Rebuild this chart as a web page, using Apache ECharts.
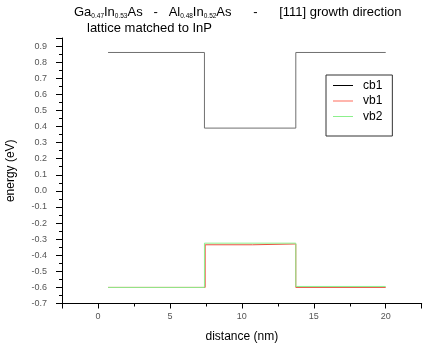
<!DOCTYPE html>
<html>
<head>
<meta charset="utf-8">
<script src="https://cdn.jsdelivr.net/npm/echarts@6/dist/echarts.min.js"></script>
<style>html,body{margin:0;padding:0;background:#fff}#c{width:432px;height:349px}</style>
</head>
<body>
<div id="c"></div>
<script>
// ---- data ----
var seriesNames = ['cb1', 'vb1', 'vb2'];
var cb1X = [0.7, 7.4, 7.4, 13.75, 13.75, 20];
var cb1Y = [0.86, 0.86, 0.39, 0.39, 0.86, 0.86];
var vb1X = [0.7, 7.45, 7.45, 10.75, 10.75, 13.75, 13.75, 20];
var vb1Y = [-0.60, -0.60, -0.335, -0.335, -0.33, -0.33, -0.60, -0.60];
var vb2X = [0.7, 7.4, 7.4, 13.75, 13.75, 20];
var vb2Y = [-0.60, -0.60, -0.325, -0.325, -0.594, -0.594];
var xTickLabels = [0, 5, 10, 15, 20];
var xMajorTicks = [-2.5, 0, 5, 10, 15, 20, 22.5];
var xMinorTicks = [2.5, 7.5, 12.5, 17.5];
var yTickLabels = [-0.7, -0.6, -0.5, -0.4, -0.3, -0.2, -0.1, 0.0, 0.1, 0.2, 0.3, 0.4, 0.5, 0.6, 0.7, 0.8, 0.9];
var yMajorTicks = yTickLabels.concat([0.95]);
var yMinorTicks = [-0.65, -0.55, -0.45, -0.35, -0.25, -0.15, -0.05, 0.05, 0.15, 0.25, 0.35, 0.45, 0.55, 0.65, 0.75, 0.85];

function pairs(xs, ys) { return xs.map(function (x, i) { return [x, ys[i]]; }); }

var FONT = 'Liberation Sans, Arial, sans-serif';
var axisLineStyle = { color: '#000', width: 1 };

var chart = echarts.init(document.getElementById('c'), null, { renderer: 'canvas' });
chart.setOption({
  animation: false,
  backgroundColor: '#fff',
  title: [
    {
      left: 69, top: 0, padding: 5,
      text: 'Ga{s|0.47}In{s|0.53}As   -   Al{s|0.48}In{s|0.52}As      -      [111] growth direction',
      textStyle: {
        fontFamily: FONT, fontSize: 13, fontWeight: 'normal', color: '#000', lineHeight: 15,
        rich: { s: { fontFamily: FONT, fontSize: 6.5, color: '#000', verticalAlign: 'bottom', lineHeight: 8 } }
      }
    },
    {
      left: 82, top: 16, padding: 5,
      text: 'lattice matched to InP',
      textStyle: { fontFamily: FONT, fontSize: 13, fontWeight: 'normal', color: '#000', lineHeight: 15 }
    }
  ],
  legend: {
    orient: 'vertical',
    left: 326, top: 75,
    padding: [4, 10, 13, 7],
    borderColor: '#333', borderWidth: 1,
    itemWidth: 20, itemHeight: 1, itemGap: 2.5,
    icon: 'rect',
    textStyle: { fontFamily: FONT, fontSize: 12, color: '#000', lineHeight: 13, padding: [0, 0, 0, 5] },
    data: [
      { name: 'cb1', itemStyle: { color: '#000' } },
      { name: 'vb1', itemStyle: { color: '#ff6a5a' } },
      { name: 'vb2', itemStyle: { color: '#8cf08c' } }
    ]
  },
  grid: { left: 62, right: 10.3, top: 38, bottom: 45.5, containLabel: false, outerBoundsMode: 'none' },
  xAxis: [
    {
      type: 'value', min: -2.5, max: 22.5,
      name: 'distance (nm)', nameLocation: 'middle', nameGap: 27,
      nameTextStyle: { fontFamily: FONT, fontSize: 12, color: '#000' },
      axisLine: { show: true, onZero: false, lineStyle: axisLineStyle },
      axisTick: { show: true, length: 5, lineStyle: axisLineStyle, customValues: xMajorTicks },
      axisLabel: { show: true, customValues: xTickLabels, fontFamily: FONT, fontSize: 9, color: '#555', margin: 9 },
      splitLine: { show: false }
    },
    {
      type: 'value', min: -2.5, max: 22.5, position: 'bottom',
      axisLine: { show: false, onZero: false },
      axisTick: { show: true, length: 3, lineStyle: axisLineStyle, customValues: xMinorTicks },
      axisLabel: { show: false },
      splitLine: { show: false }
    }
  ],
  yAxis: [
    {
      type: 'value', min: -0.7, max: 0.95,
      name: 'energy (eV)', nameLocation: 'middle', nameGap: 45, nameRotate: 90,
      nameTextStyle: { fontFamily: FONT, fontSize: 12, color: '#000' },
      axisLine: { show: true, onZero: false, lineStyle: axisLineStyle },
      axisTick: { show: true, length: 6, lineStyle: axisLineStyle, customValues: yMajorTicks },
      axisLabel: {
        show: true, customValues: yTickLabels, fontFamily: FONT, fontSize: 9, color: '#555', margin: 15,
        formatter: function (v) { return v.toFixed(1); }
      },
      splitLine: { show: false }
    },
    {
      type: 'value', min: -0.7, max: 0.95, position: 'left',
      axisLine: { show: false, onZero: false },
      axisTick: { show: true, length: 3, lineStyle: axisLineStyle, customValues: yMinorTicks },
      axisLabel: { show: false },
      splitLine: { show: false }
    }
  ],
  series: [
    { name: 'cb1', type: 'line', data: pairs(cb1X, cb1Y), showSymbol: false, symbol: 'none',
      lineStyle: { color: '#707070', width: 1 }, itemStyle: { color: '#000' } },
    { name: 'vb1', type: 'line', data: pairs(vb1X, vb1Y), showSymbol: false, symbol: 'none',
      lineStyle: { color: '#e8503e', width: 1 }, itemStyle: { color: '#ff6a5a' } },
    { name: 'vb2', type: 'line', data: pairs(vb2X, vb2Y), showSymbol: false, symbol: 'none',
      lineStyle: { color: '#8cf08c', width: 1 }, itemStyle: { color: '#8cf08c' } }
  ]
});
</script>
</body>
</html>
